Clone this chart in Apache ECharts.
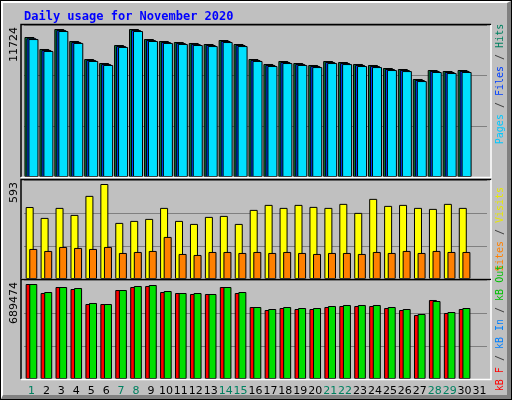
<!DOCTYPE html>
<html>
<head>
<meta charset="utf-8">
<script src="https://cdn.jsdelivr.net/npm/echarts@6/dist/echarts.min.js"></script>
<style>
  body { margin: 0; background: #c0c0c0; }
  #frame { position: absolute; left: 0; top: 0; width: 512px; height: 400px; box-sizing: border-box; border: 1px solid #000; }
  #inner { width: 100%; height: 100%; box-sizing: border-box; border-left: 2px solid #fff; border-top: 2px solid #fff; border-right: 4px solid #808080; border-bottom: 4px solid #808080; }
  #chart { position: absolute; left: 0; top: 0; width: 512px; height: 400px; }
</style>
</head>
<body>
<div id="frame"><div id="inner"></div></div>
<div id="chart"></div>
<script>
  var days = [];
  for (var d = 1; d <= 31; d++) days.push(String(d));
  var weekendDays = ['1', '7', '8', '14', '15', '21', '22', '28', '29'];

  var maxHits = 11724, maxVisits = 593, maxKB = 689474;

  var hits = [10798, 9873, 11415, 10490, 9101, 8793, 10181, 11415, 10644, 10490, 10413, 10336, 10258, 10567, 10258,
    9101, 8716, 8947, 8793, 8639, 8947, 8870, 8716, 8639, 8407, 8330, 7559, 8253, 8176, 8253, null];
  var files = [10700, 9790, 11330, 10410, 9020, 8710, 10100, 11330, 10560, 10410, 10330, 10250, 10180, 10490, 10180,
    9020, 8640, 8870, 8710, 8560, 8870, 8790, 8640, 8560, 8330, 8250, 7480, 8180, 8100, 8180, null];
  var pages = [10640, 9720, 11260, 10340, 8950, 8640, 10030, 11260, 10490, 10340, 10260, 10180, 10100, 10410, 10100,
    8950, 8560, 8790, 8640, 8480, 8790, 8710, 8560, 8480, 8250, 8170, 7400, 8100, 8020, 8100, null];

  var visits = [431, 366, 426, 384, 498, 569, 336, 348, 360, 426, 348, 330, 372, 378, 330,
    414, 444, 426, 444, 432, 426, 450, 396, 480, 438, 444, 426, 420, 450, 426, null];
  var sites = [180, 168, 192, 186, 180, 192, 156, 162, 168, 252, 150, 144, 162, 162, 156,
    162, 156, 162, 156, 150, 156, 156, 150, 162, 156, 168, 156, 168, 162, 162, null];

  var kbIn = [661600, 605900, 640700, 633700, 529300, 522300, 619800, 647700, 654600, 612800, 598900, 598900, 592000, 640700, 605900,
    501400, 487500, 501400, 494400, 494400, 508400, 515400, 515400, 515400, 501400, 487500, 452700, 543200, 466600, 494400, null];
  var kbF = [661600, 599000, 640700, 626700, 522300, 522300, 619800, 640700, 647700, 605900, 598900, 592000, 592000, 640700, 598900,
    501400, 480500, 494400, 487500, 487500, 501400, 508400, 508400, 508400, 494400, 480500, 445700, 550200, 459600, 487500, null];

  var chart = echarts.init(document.getElementById('chart'));

  var panels = [
    { top: 25, height: 152, max: maxHits },
    { top: 180, height: 99, max: maxVisits },
    { top: 280, height: 99, max: maxKB }
  ];

  var grids = [], xAxes = [], yAxes = [], frames = [];
  panels.forEach(function (p, i) {
    grids.push({ left: 24, width: 463, top: p.top, height: p.height });
    xAxes.push({
      gridIndex: i, type: 'category', data: days,
      axisLine: { show: false }, axisTick: { show: false },
      axisLabel: {
        show: i === 2, margin: 7, interval: 0,
        fontFamily: 'DejaVu Sans', fontSize: 11,
        color: function (v) { return weekendDays.indexOf(v) >= 0 ? '#008060' : '#000'; }
      }
    });
    yAxes.push({
      gridIndex: i, type: 'value', min: 0, max: p.max, interval: p.max / 3,
      axisLine: { show: false }, axisTick: { show: false }, axisLabel: { show: false },
      splitLine: { lineStyle: { color: '#808080', width: 1 } }
    });
    frames.push({
      type: 'text', x: 14, y: p.top + 2, rotation: Math.PI / 2, silent: true,
      style: {
        text: String(p.max), align: 'right', verticalAlign: 'middle',
        font: '11px "DejaVu Sans"', fill: '#000'
      }
    });
    frames.push({
      type: 'polyline', silent: true, z: 100,
      shape: { points: [[21, p.top + p.height], [21, p.top - 0.5], [491, p.top - 0.5]] },
      style: { stroke: '#000', fill: null, lineWidth: 1.5 }
    });
    frames.push({
      type: 'polyline', silent: true, z: 100,
      shape: { points: [[491, p.top], [491, p.top + p.height + 0.5], [21, p.top + p.height + 0.5]] },
      style: { stroke: '#fff', fill: null, lineWidth: 1.5 }
    });
  });

  function bar(name, data, color, idx, width, gap) {
    return {
      name: name, type: 'bar', data: data, xAxisIndex: idx, yAxisIndex: idx,
      barWidth: width, barGap: gap,
      itemStyle: { color: color, borderColor: '#000', borderWidth: 1 }
    };
  }

  function sideLabel(x, y, parts) {
    return {
      type: 'text', x: x, y: y, rotation: Math.PI / 2, silent: true,
      style: {
        text: parts.map(function (p) { return '{' + p[1] + '|' + p[0] + '}'; }).join(''),
        align: 'center', verticalAlign: 'middle',
        font: '10px "DejaVu Sans Mono"',
        rich: {
          hits: { fill: '#008060' }, files: { fill: '#0040ff' }, pages: { fill: '#00c8ff' },
          sep: { fill: '#404040' }, visits: { fill: '#e8e800' }, sites: { fill: '#ff8000' },
          kf: { fill: '#ff0000' }, kin: { fill: '#0080ff' }, kout: { fill: '#00c000' }
        }
      }
    };
  }

  var option = {
    animation: false,
    title: {
      text: 'Daily usage for November 2020', left: 19, top: 6,
      textStyle: { color: '#0000ff', fontFamily: 'DejaVu Sans Mono', fontWeight: 'bold', fontSize: 12 }
    },
    grid: grids,
    xAxis: xAxes,
    yAxis: yAxes,
    series: [
      bar('Hits', hits, '#008040', 0, 10, '-80%'),
      bar('Files', files, '#0040ff', 0, 10, '-80%'),
      bar('Pages', pages, '#00e0ff', 0, 10, '-80%'),
      bar('Visits', visits, '#ffff00', 1, 8, '-55%'),
      bar('Sites', sites, '#ff8000', 1, 8, '-55%'),
      bar('kB F', kbF, '#ff0000', 2, 8, '-55%'),
      bar('kB In', kbIn, '#00e000', 2, 8, '-55%')
    ],
    graphic: frames.concat([
      sideLabel(500, 84, [['Pages', 'pages'], [' / ', 'sep'], ['Files', 'files'], [' / ', 'sep'], ['Hits', 'hits']]),
      sideLabel(500, 229, [['Sites', 'sites'], [' / ', 'sep'], ['Visits', 'visits']]),
      sideLabel(500, 328, [['kB F', 'kf'], [' / ', 'sep'], ['kB In', 'kin'], [' / ', 'sep'], ['kB Out', 'kout']])
    ])
  };
  chart.setOption(option);
</script>
</body>
</html>
